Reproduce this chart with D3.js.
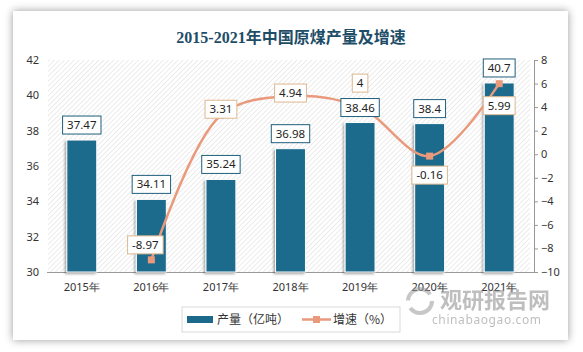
<!DOCTYPE html>
<meta charset="utf-8">
<style>
  body { margin: 0; background: #fff; }
  text { font-family: "Noto Sans", "DejaVu Sans", sans-serif; }
  .axis text { font-size: 11px; fill: #333; }
  .tick line { stroke: #999; }
  .domain { stroke: #999; }
</style>
<body>
<script src="https://d3js.org/d3.v7.min.js"></script>
<script>

var years = ["2015年", "2016年", "2017年", "2018年", "2019年", "2020年", "2021年"];
var output = [37.47, 34.11, 35.24, 36.98, 38.46, 38.4, 40.7];
var growth = [null, -8.97, 3.31, 4.94, 4, -0.16, 5.99];
// vertical offset of each growth label from its point (px), as placed in the source chart
var growthLabelDy = [null, -15, -6, -3, -24, 19, 22];
var leftTicks = [30, 32, 34, 36, 38, 40, 42];
var rightTicks = [-10, -8, -6, -4, -2, 0, 2, 4, 6, 8];

var width = 583, height = 352;
var margin = { left: 47, right: 49 };

var svg = d3.select("body").append("svg")
  .attr("width", width)
  .attr("height", height);

var defs = svg.append("defs");

var shadow = defs.append("filter").attr("id", "cardShadow")
  .attr("x", "-5%").attr("y", "-8%").attr("width", "110%").attr("height", "116%");
shadow.append("feDropShadow").attr("dx", 0).attr("dy", 0)
  .attr("stdDeviation", 4).attr("flood-color", "#000").attr("flood-opacity", 0.4);

var barShadow = defs.append("filter").attr("id", "barShadow")
  .attr("x", "-30%").attr("y", "-10%").attr("width", "160%").attr("height", "120%");
barShadow.append("feDropShadow").attr("dx", -1.5).attr("dy", 1.5)
  .attr("stdDeviation", 1.2).attr("flood-color", "#000").attr("flood-opacity", 0.35);

var hatch = defs.append("pattern").attr("id", "hatch")
  .attr("width", 3.5).attr("height", 3.5)
  .attr("patternUnits", "userSpaceOnUse")
  .attr("patternTransform", "rotate(45)");
hatch.append("line").attr("x1", 0).attr("y1", 0).attr("x2", 0).attr("y2", 3.5)
  .attr("stroke", "#cfcfcf").attr("stroke-width", 0.8);

// card
svg.append("rect")
  .attr("x", 13).attr("y", 11)
  .attr("width", 555).attr("height", 329)
  .attr("fill", "#fff")
  .attr("filter", "url(#cardShadow)");

svg.append("text")
  .attr("x", 291).attr("y", 43)
  .attr("text-anchor", "middle")
  .style("font-family", "'Liberation Serif', 'Noto Sans CJK SC', serif")
  .style("font-weight", "bold")
  .style("font-size", "16px")
  .attr("fill", "#1e4d68")
  .text("2015-2021年中国原煤产量及增速");

var plotW = width - margin.left - margin.right;
var plotTop = 60, plotBottom = 272;

var x = d3.scaleBand().domain(years).range([margin.left, margin.left + plotW]).paddingInner(0.57).paddingOuter(0.285);
var yL = d3.scaleLinear().domain([30, 42]).range([plotBottom, plotTop]);
var yR = d3.scaleLinear().domain([-10, 8]).range([plotBottom, plotTop]);
var cx = function (i) { return x(years[i]) + x.bandwidth() / 2; };

// hatched plot background
svg.append("rect")
  .attr("x", margin.left + 1).attr("y", plotTop)
  .attr("width", plotW - 5).attr("height", plotBottom - plotTop)
  .attr("fill", "url(#hatch)");

// left axis (labels only)
var gL = svg.append("g").attr("class", "axis")
  .attr("transform", "translate(" + margin.left + ",0)")
  .call(d3.axisLeft(yL).tickValues(leftTicks).tickSize(0).tickPadding(8));
gL.select(".domain").remove();

// right axis
svg.append("g").attr("class", "axis")
  .attr("transform", "translate(" + (margin.left + plotW) + ",0)")
  .call(d3.axisRight(yR).tickValues(rightTicks).tickSize(4).tickPadding(3).tickSizeOuter(0));

// baseline
svg.append("line")
  .attr("x1", margin.left).attr("x2", margin.left + plotW)
  .attr("y1", plotBottom + 0.5).attr("y2", plotBottom + 0.5)
  .attr("stroke", "#999");

// x labels
var gX = svg.append("g").attr("class", "axis")
  .attr("transform", "translate(0," + plotBottom + ")")
  .call(d3.axisBottom(x).tickSize(0).tickPadding(11));
gX.select(".domain").remove();

// bars
var barColor = "#1b6a8c";
svg.append("g").selectAll("rect")
  .data(output)
  .join("rect")
  .attr("x", function (d, i) { return x(years[i]); })
  .attr("y", function (d) { return yL(d); })
  .attr("width", x.bandwidth())
  .attr("height", function (d) { return plotBottom - yL(d); })
  .attr("fill", barColor)
  .attr("stroke", "#fff")
  .attr("stroke-width", 1)
  .attr("filter", "url(#barShadow)");

// line
var lineColor = "#ea9a7c";
var pts = growth.map(function (d, i) { return { v: d, i: i }; }).filter(function (p) { return p.v !== null; });
var line = d3.line()
  .x(function (p) { return cx(p.i); })
  .y(function (p) { return yR(p.v); })
  .curve(d3.curveCatmullRom.alpha(0.5));

svg.append("path")
  .datum(pts)
  .attr("d", line)
  .attr("fill", "none")
  .attr("stroke", lineColor)
  .attr("stroke-width", 2.5);

svg.append("g").selectAll("rect")
  .data(pts)
  .join("rect")
  .attr("x", function (p) { return cx(p.i) - 3.5; })
  .attr("y", function (p) { return yR(p.v) - 3.5; })
  .attr("width", 7).attr("height", 7)
  .attr("fill", lineColor);

// label boxes
function labelBox(g, lx, ly, txt, border) {
  var t = g.append("text")
    .attr("x", lx).attr("y", ly + 4)
    .attr("text-anchor", "middle")
    .style("font-size", "11.5px")
    .attr("fill", "#222")
    .text(txt);
  var w = t.node().getComputedTextLength() + 9;
  g.insert("rect", function () { return t.node(); })
    .attr("x", lx - w / 2).attr("y", ly - 9)
    .attr("width", w).attr("height", 18)
    .attr("fill", "#fff")
    .attr("stroke", border)
    .attr("stroke-width", 1);
}

var labels = svg.append("g");
pts.forEach(function (p) {
  var lx = cx(p.i) - (p.i === 1 ? 6 : 0);
  labelBox(labels.append("g"), lx, yR(p.v) + growthLabelDy[p.i], String(p.v), "#dcb88e");
});
output.forEach(function (d, i) {
  labelBox(labels.append("g"), cx(i), yL(d) - 15, String(d), "#1e5f7c");
});

// legend
var lg = svg.append("g");
lg.append("rect").attr("x", 182).attr("y", 307).attr("width", 218).attr("height", 25)
  .attr("fill", "#fff").attr("stroke", "#d9d9d9");
lg.append("rect").attr("x", 187).attr("y", 316).attr("width", 26).attr("height", 7).attr("fill", barColor);
lg.append("text").attr("x", 217).attr("y", 324)
  .style("font-family", "'Noto Sans CJK SC', sans-serif").style("font-size", "12px").attr("fill", "#333")
  .text("产量（亿吨）");
lg.append("line").attr("x1", 302).attr("x2", 331).attr("y1", 319.5).attr("y2", 319.5)
  .attr("stroke", lineColor).attr("stroke-width", 2.5);
lg.append("rect").attr("x", 313).attr("y", 316).attr("width", 7).attr("height", 7).attr("fill", lineColor);
lg.append("text").attr("x", 333).attr("y", 324)
  .style("font-family", "'Noto Sans CJK SC', sans-serif").style("font-size", "12px").attr("fill", "#333")
  .text("增速（%）");

// watermark
var wm = svg.append("g").attr("opacity", 0.55);
wm.append("circle").attr("cx", 420).attr("cy", 301).attr("r", 12)
  .attr("fill", "none").attr("stroke", "#9a9a9a").attr("stroke-width", 4)
  .attr("stroke-dasharray", "30 8");
wm.append("text").attr("x", 440).attr("y", 308)
  .style("font-family", "'Noto Sans CJK SC', sans-serif").style("font-weight", "bold").style("font-size", "22px")
  .attr("fill", "#8a8a8a").text("观研报告网");
wm.append("text").attr("x", 432).attr("y", 324)
  .style("font-size", "12px").style("letter-spacing", "0.6px")
  .attr("fill", "#8a8a8a").text("chinabaogao.com");

</script>
</body>
